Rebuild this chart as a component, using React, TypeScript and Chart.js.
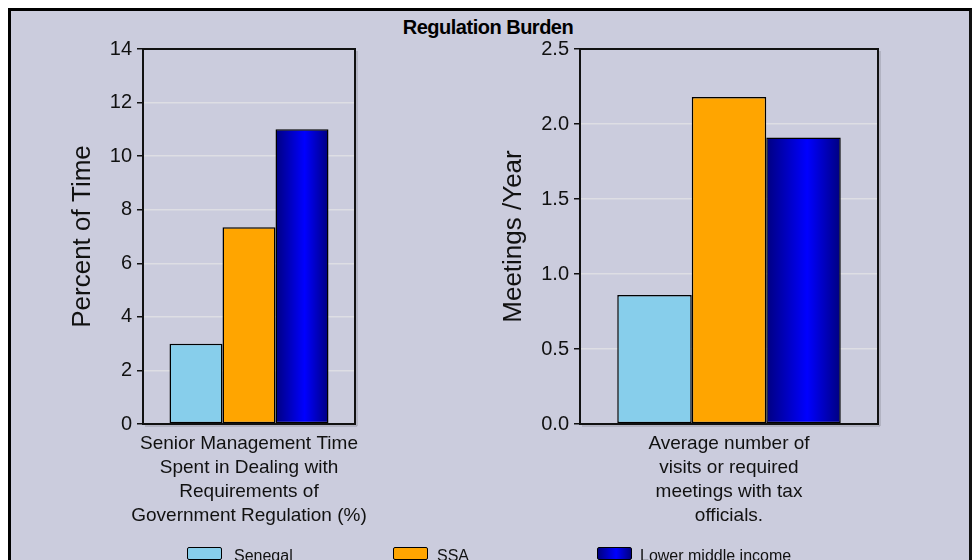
import React, { useEffect, useRef } from "react";
import { Chart, registerables } from "chart.js";

Chart.register(...registerables);

const title = "Regulation Burden";
const seriesNames = ["Senegal", "SSA", "Lower middle income"];
const leftCategory = [["Senior Management Time", "Spent in Dealing with", "Requirements of", "Government Regulation (%)"]];
const rightCategory = [["Average number of", "visits or required", "meetings with tax", "officials."]];
const leftValues = [3.0, 7.35, 11.0];
const rightValues = [0.86, 2.18, 1.91];
const leftTitle = "Percent of Time";
const rightTitle = "Meetings /Year";
const leftMax = 14;
const leftStep = 2;
const rightMax = 2.5;
const rightStep = 0.5;

const BG = "#cbccdd";
const NARROW = "'Liberation Sans Narrow', 'Arial Narrow', 'Liberation Sans', sans-serif";
const WIDE = "'Liberation Sans', Arial, sans-serif";
const colors = ["#87ceeb", "#ffa500", "#0000cc"];
const CAT_PCT = 0.75;

function blueGradient(ctx: any) {
  const chart = ctx.chart;
  const area = chart.chartArea;
  const xs = chart.scales && chart.scales.x;
  if (!area || !xs || ctx.type !== "data") return "#0000cc";
  const n = chart.data.labels.length;
  const catW = (area.right - area.left) / n;
  const center = xs.getPixelForValue(ctx.dataIndex);
  const groupW = catW * CAT_PCT;
  const bw = groupW / 3;
  const left = center - groupW / 2 + 2 * bw;
  const g = chart.ctx.createLinearGradient(left, 0, left + bw, 0);
  g.addColorStop(0, "#000080");
  g.addColorStop(0.55, "#0000ff");
  g.addColorStop(1, "#000080");
  return g;
}

const boxPlugin = {
  id: "plotBox",
  afterDraw(chart: any) {
    const { ctx, chartArea: a } = chart;
    ctx.save();
    ctx.strokeStyle = "#9a9aa8";
    ctx.lineWidth = 1;
    ctx.beginPath();
    ctx.moveTo(a.right + 2, a.top + 2);
    ctx.lineTo(a.right + 2, a.bottom + 2);
    ctx.lineTo(a.left + 2, a.bottom + 2);
    ctx.stroke();
    ctx.strokeStyle = "#111";
    ctx.lineWidth = 2;
    ctx.strokeRect(a.left, a.top, a.right - a.left, a.bottom - a.top);
    ctx.restore();
  },
};

function makeConfig(labels: any, values: number[], yTitle: string, max: number, step: number, yWidth: number, padRight: number, decimals: number) {
  return {
    type: "bar" as const,
    data: {
      labels,
      datasets: seriesNames.map((name, i) => ({
        label: name,
        data: [values[i]],
        backgroundColor: i === 2 ? blueGradient : colors[i],
        borderColor: "#000",
        borderWidth: 1.5,
        borderSkipped: false,
        barPercentage: 1,
        categoryPercentage: CAT_PCT,
      })),
    },
    plugins: [boxPlugin],
    options: {
      responsive: false,
      animation: false as const,
      layout: { padding: { top: 29, right: padRight, left: 0, bottom: 0 } },
      plugins: { legend: { display: false }, tooltip: { enabled: false }, title: { display: false } },
      scales: {
        x: {
          grid: { display: false, drawTicks: false },
          border: { display: false },
          ticks: { color: "#111", font: { family: NARROW, size: 19, lineHeight: 1.26 }, padding: 8, maxRotation: 0, autoSkip: false },
          afterFit: (s: any) => { s.height = 136; s.paddingLeft = 0; s.paddingRight = 0; },
        },
        y: {
          min: 0,
          max,
          ticks: {
            stepSize: step,
            color: "#111",
            padding: 5,
            font: { family: NARROW, size: 20 },
            callback: (v: any) => Number(v).toFixed(decimals),
          },
          grid: { color: "#dedee4", tickColor: "#111", tickLength: 6, lineWidth: 1.5 },
          border: { display: false },
          title: { display: true, text: yTitle, color: "#111", font: { family: WIDE, size: 26 }, padding: { top: 4, bottom: 0 } },
          afterFit: (s: any) => { s.width = yWidth; },
        },
      },
    },
  };
}

function BarPanel(props: { left: number; width: number; cfg: any }) {
  const ref = useRef<HTMLCanvasElement>(null);
  useEffect(() => {
    const c = new Chart(ref.current as HTMLCanvasElement, props.cfg);
    return () => c.destroy();
  }, []);
  return (
    <canvas
      ref={ref}
      width={props.width}
      height={540}
      style={{ position: "absolute", left: props.left, top: 20, width: props.width, height: 540 }}
    />
  );
}

export default function App() {
  const leftCfg = makeConfig(leftCategory, leftValues, leftTitle, leftMax, leftStep, 80, 15, 0);
  const rightCfg = makeConfig(rightCategory, rightValues, rightTitle, rightMax, rightStep, 86, 22, 1);
  const legendX = [187, 393, 597];
  return (
    <div style={{ position: "absolute", left: 0, top: 0, width: 976, height: 560, background: "#fff", overflow: "hidden" }}>
      <div style={{ position: "absolute", left: 8, top: 8, width: 958, height: 600, background: BG, border: "3px solid #000", borderRight: "3px solid #111" }} />
      <div
        style={{
          position: "absolute", left: 288, top: 16, width: 400, textAlign: "center",
          fontFamily: NARROW, fontWeight: "bold", fontSize: 20, color: "#000", letterSpacing: -0.5,
        }}
      >
        {title}
      </div>
      <BarPanel left={63} width={307} cfg={leftCfg} />
      <BarPanel left={494} width={406} cfg={rightCfg} />
      {seriesNames.map((name, i) => (
        <div key={name} style={{ position: "absolute", left: legendX[i], top: 547, height: 20, whiteSpace: "nowrap" }}>
          <div
            style={{
              position: "absolute", left: 0, top: 0, width: 33, height: 11, border: "1.5px solid #000", borderRadius: 2,
              background: i === 2 ? "linear-gradient(90deg, #000080, #0000ff 55%, #000080)" : colors[i],
            }}
          />
          <div style={{ position: "absolute", left: i === 0 ? 47 : i === 1 ? 44 : 43, top: 0, fontFamily: NARROW, fontSize: 16, color: "#111" }}>
            {name}
          </div>
        </div>
      ))}
    </div>
  );
}
